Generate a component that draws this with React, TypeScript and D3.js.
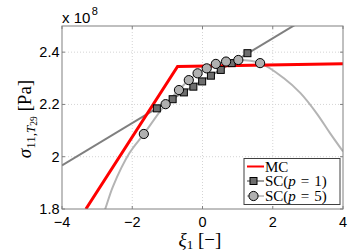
import * as d3 from "d3";

// values in units of 1e8 Pa
const xTicks = [-4, -2, 0, 2, 4];
const yTicks = [1.8, 2.0, 2.2, 2.4];
const yTickLabels = ["1.8", "2", "2.2", "2.4"];

// MC reference
const mcXi = [-3.32, -0.71, 4];
const mcSigma = [1.8, 2.345, 2.356];

// SC p = 1 (linear surrogate + collocation points)
const sc1LineXi = [-4, 4];
const sc1LineSigma = [1.967, 2.615];
const sc1PtXi = [-1.3, -0.85, -0.53, -0.26, -0.01, 0.24, 0.52, 0.83, 1.28];
const sc1PtSigma = [2.185, 2.22, 2.246, 2.268, 2.288, 2.31, 2.332, 2.358, 2.396];

// SC p = 5 (polynomial surrogate + collocation points)
const sc5CurveXi = [-3.0, -2.77, -2.55, -2.08, -1.67, -1.05, -0.67, -0.39, -0.14, 0.12, 0.38, 0.67, 1.02, 1.64, 2.31, 2.79, 3.26, 3.63, 4.0];
const sc5CurveSigma = [1.72, 1.8, 1.886, 2.014, 2.087, 2.201, 2.255, 2.293, 2.319, 2.338, 2.355, 2.364, 2.37, 2.358, 2.301, 2.243, 2.164, 2.09, 2.02];
const sc5PtXi = [-1.67, -1.05, -0.67, -0.39, -0.14, 0.12, 0.38, 0.67, 1.02, 1.64];
const sc5PtSigma = [2.087, 2.201, 2.255, 2.293, 2.319, 2.338, 2.355, 2.364, 2.37, 2.358];

const legendLabels = ["MC", "SC", "SC"];
const legendOrders = ["", "1", "5"];

const W = 354;
const H = 252;
const plot = { left: 62, right: 343, top: 26, bottom: 209 };

const axisGray = "#808080";
const sansFont = "'Liberation Sans', Arial, sans-serif";
const serifFont = "'Liberation Serif', 'DejaVu Serif', serif";

export default function App() {
  const x = d3.scaleLinear().domain([-4, 4]).range([plot.left, plot.right]);
  const y = d3.scaleLinear().domain([1.8, 2.5]).range([plot.bottom, plot.top]);

  const zip = (xs: number[], ys: number[]) => xs.map((v, i) => [v, ys[i]] as [number, number]);
  const line = d3
    .line<[number, number]>()
    .x((d) => x(d[0]))
    .y((d) => y(d[1]));
  const smooth = d3
    .line<[number, number]>()
    .x((d) => x(d[0]))
    .y((d) => y(d[1]))
    .curve(d3.curveCatmullRom);

  const sc1Pts = zip(sc1PtXi, sc1PtSigma);
  const sc5Pts = zip(sc5PtXi, sc5PtSigma);

  const tickLen = 3;
  const legend = { x: 244, y: 158.5, w: 96, h: 46 };
  const legendRows = [166.5, 181, 196];

  return (
    <div style={{ position: "absolute", left: 0, top: 0 }}>
      <svg width={W} height={H} style={{ display: "block", background: "#fff" }}>
        <defs>
          <clipPath id="plot-clip">
            <rect x={plot.left} y={plot.top} width={plot.right - plot.left} height={plot.bottom - plot.top} />
          </clipPath>
        </defs>

        {/* grid */}
        <g stroke="#d4d4d4" strokeWidth={1} strokeDasharray="1,2">
          {xTicks.slice(1, -1).map((t) => (
            <line key={"gx" + t} x1={x(t)} x2={x(t)} y1={plot.top} y2={plot.bottom} />
          ))}
          {yTicks.slice(1).map((t) => (
            <line key={"gy" + t} x1={plot.left} x2={plot.right} y1={y(t)} y2={y(t)} />
          ))}
        </g>

        {/* data */}
        <g clipPath="url(#plot-clip)" fill="none">
          <path d={smooth(zip(sc5CurveXi, sc5CurveSigma)) ?? ""} stroke="#b4b4b4" strokeWidth={2} />
          <path d={line(zip(sc1LineXi, sc1LineSigma)) ?? ""} stroke="#7f7f7f" strokeWidth={2} />
          <path d={line(zip(mcXi, mcSigma)) ?? ""} stroke="#ff0000" strokeWidth={3} />
        </g>
        <g stroke="#000" strokeWidth={1}>
          {sc1Pts.map((d, i) => (
            <rect key={"s" + i} x={x(d[0]) - 3.5} y={y(d[1]) - 3.5} width={7} height={7} fill="#6e6e6e" />
          ))}
          {sc5Pts.map((d, i) => (
            <circle key={"c" + i} cx={x(d[0])} cy={y(d[1])} r={4.6} fill="#b0b0b0" />
          ))}
        </g>

        {/* frame + ticks */}
        <g stroke={axisGray} strokeWidth={1} fill="none">
          <rect x={plot.left} y={plot.top} width={plot.right - plot.left} height={plot.bottom - plot.top} />
          {xTicks.map((t) => (
            <g key={"tx" + t}>
              <line x1={x(t)} x2={x(t)} y1={plot.bottom} y2={plot.bottom - tickLen} />
              <line x1={x(t)} x2={x(t)} y1={plot.top} y2={plot.top + tickLen} />
            </g>
          ))}
          {yTicks.map((t) => (
            <g key={"ty" + t}>
              <line x1={plot.left} x2={plot.left + tickLen} y1={y(t)} y2={y(t)} />
              <line x1={plot.right} x2={plot.right - tickLen} y1={y(t)} y2={y(t)} />
            </g>
          ))}
        </g>

        {/* tick labels */}
        <g fontFamily={sansFont} fontSize={14.5} fill="#000">
          {xTicks.map((t) => (
            <text key={"lx" + t} x={x(t)} y={227} textAnchor="middle">
              {t < 0 ? "\u2212" + Math.abs(t) : String(t)}
            </text>
          ))}
          {yTicks.map((t, i) => (
            <text key={"ly" + t} x={59.5} y={y(t) + 5} textAnchor="end">
              {yTickLabels[i]}
            </text>
          ))}
          <text x={62} y={23} fontSize={15}>
            x 10
            <tspan fontSize={11} dx={1.5} dy={-8}>8</tspan>
          </text>
        </g>

        {/* axis labels */}
        <text x={200} y={246} textAnchor="middle" fontFamily={serifFont} fontSize={19}>
          <tspan fontStyle="italic">ξ</tspan>
          <tspan fontSize={13} dy={3}>1</tspan>
          <tspan dy={-3}> [−]</tspan>
        </text>
        <text transform="translate(31,119) rotate(-90)" textAnchor="middle" fontFamily={serifFont} fontSize={19}>
          <tspan fontStyle="italic">σ</tspan>
          <tspan fontSize={13} dy={4}>11,</tspan>
          <tspan fontSize={13} fontStyle="italic">T</tspan>
          <tspan fontSize={9.5} dy={2}>29</tspan>
          <tspan dy={-6}> [Pa]</tspan>
        </text>

        {/* legend */}
        <g>
          <rect x={legend.x} y={legend.y} width={legend.w} height={legend.h} fill="#fff" stroke="#404040" strokeWidth={1} />
          <line x1={247} x2={264} y1={legendRows[0]} y2={legendRows[0]} stroke="#ff0000" strokeWidth={2} />
          <line x1={247} x2={264} y1={legendRows[1]} y2={legendRows[1]} stroke="#7f7f7f" strokeWidth={1.5} />
          <line x1={247} x2={264} y1={legendRows[2]} y2={legendRows[2]} stroke="#b4b4b4" strokeWidth={1.5} />
          <rect x={253.5 - 3.5} y={legendRows[1] - 3.5} width={7} height={7} fill="#6e6e6e" stroke="#000" />
          <circle cx={253.5} cy={legendRows[2]} r={4.6} fill="#b0b0b0" stroke="#000" />
          <g fontFamily={serifFont} fontSize={15} fill="#000">
            {legendLabels.map((lab, i) =>
              legendOrders[i] === "" ? (
                <text key={"lg" + i} x={265} y={legendRows[i] + 5}>{lab}</text>
              ) : (
                <text key={"lg" + i} x={265} y={legendRows[i] + 5}>
                  {lab}(<tspan fontStyle="italic">p</tspan>
                  <tspan dx={5}>=</tspan>
                  <tspan dx={5}>{legendOrders[i]})</tspan>
                </text>
              )
            )}
          </g>
        </g>
      </svg>
    </div>
  );
}
